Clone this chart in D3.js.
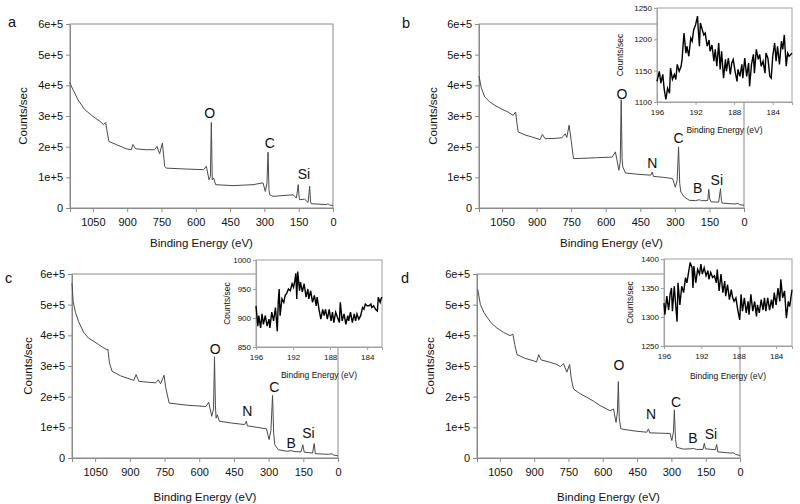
<!DOCTYPE html>
<html><head><meta charset="utf-8">
<script src="https://cdn.jsdelivr.net/npm/d3@7"></script>
<style>
body{margin:0;background:#fff}
svg{display:block}
text{font-family:"Liberation Sans",Arial,Helvetica,sans-serif;fill:#111}
</style>
</head><body>
<svg id="chart" width="800" height="504"></svg>
<script>
// ---------- data ----------
const xTicks = [1050, 900, 750, 600, 450, 300, 150, 0];
const yTicks = [0, 1e5, 2e5, 3e5, 4e5, 5e5, 6e5];
const insetXTicks = [196, 192, 188, 184];
const insetYTicksB = [1100, 1150, 1200, 1250];
const insetYTicksC = [850, 900, 950, 1000];
const insetYTicksD = [1250, 1300, 1350, 1400];
const panelLetters = ["a", "b", "c", "d"];

// survey spectra: [binding energy (eV), counts/sec]
const surveyA = [[1152,4.10e5],[1137,3.86e5],[1115,3.53e5],[1086,3.21e5],[1050,2.99e5],[1020,2.83e5],[1003,2.72e5],[994,2.79e5],[988,2.50e5],[980,2.17e5],[948,2.07e5],[904,1.93e5],[882,1.90e5],[875,2.07e5],[863,1.93e5],[816,1.90e5],[780,1.90e5],[770,2.01e5],[758,1.77e5],[746,2.12e5],[736,1.36e5],[729,1.30e5],[641,1.27e5],[566,1.25e5],[554,1.36e5],[542,0.92e5],[536,1.03e5],[532,2.79e5],[528,0.92e5],[522,0.98e5],[513,0.76e5],[437,0.73e5],[350,0.76e5],[306,0.82e5],[296,0.54e5],[289,0.80e5],[284,1.82e5],[280,0.60e5],[277,0.43e5],[262,0.38e5],[175,0.43e5],[160,0.33e5],[152,0.76e5],[148,0.35e5],[146,0.27e5],[124,0.29e5],[109,0.18e5],[102,0.71e5],[98,0.20e5],[95,0.14e5],[29,0.11e5],[22,0.14e5],[16,0.10e5],[0,0.08e5]];

const surveyB = [[1150,4.30e5],[1140,3.92e5],[1125,3.62e5],[1105,3.47e5],[1082,3.35e5],[1050,3.22e5],[1024,3.13e5],[1002,3.02e5],[991,3.13e5],[985,2.75e5],[980,2.48e5],[950,2.38e5],[922,2.32e5],[885,2.23e5],[875,2.40e5],[863,2.26e5],[820,2.27e5],[790,2.29e5],[776,2.42e5],[769,2.30e5],[759,2.70e5],[750,2.20e5],[740,1.61e5],[700,1.62e5],[640,1.64e5],[572,1.66e5],[558,1.83e5],[543,1.23e5],[537,1.50e5],[533,3.53e5],[529,1.60e5],[526,1.34e5],[514,1.14e5],[460,1.10e5],[405,1.07e5],[398,1.17e5],[393,1.03e5],[350,1.00e5],[310,0.96e5],[298,0.68e5],[290,0.90e5],[284,1.99e5],[279,0.80e5],[274,0.52e5],[259,0.36e5],[237,0.25e5],[210,0.24e5],[194,0.27e5],[185,0.24e5],[165,0.24e5],[157,0.25e5],[153,0.61e5],[149,0.30e5],[143,0.20e5],[110,0.19e5],[102,0.63e5],[98,0.25e5],[95,0.16e5],[40,0.13e5],[26,0.15e5],[20,0.11e5],[0,0.09e5]];

const surveyC = [[1150,5.70e5],[1145,5.10e5],[1135,4.75e5],[1122,4.46e5],[1100,4.10e5],[1079,3.91e5],[1055,3.80e5],[1035,3.70e5],[1015,3.60e5],[999,3.53e5],[995,3.55e5],[988,3.10e5],[977,2.83e5],[940,2.68e5],[890,2.55e5],[883,2.53e5],[873,2.72e5],[861,2.50e5],[820,2.47e5],[788,2.45e5],[777,2.55e5],[767,2.42e5],[752,2.70e5],[745,2.30e5],[730,1.79e5],[650,1.72e5],[571,1.68e5],[559,1.82e5],[546,1.36e5],[538,1.60e5],[534,3.30e5],[530,1.70e5],[527,1.30e5],[522,1.41e5],[513,1.20e5],[460,1.14e5],[404,1.09e5],[396,1.20e5],[392,1.05e5],[350,1.00e5],[309,0.95e5],[298,0.60e5],[290,0.90e5],[283,2.04e5],[278,0.80e5],[273,0.43e5],[258,0.27e5],[220,0.22e5],[200,0.24e5],[190,0.21e5],[160,0.20e5],[152,0.43e5],[146,0.19e5],[110,0.16e5],[103,0.47e5],[98,0.14e5],[40,0.12e5],[26,0.14e5],[20,0.10e5],[0,0.07e5]];

const surveyD = [[1147,5.50e5],[1135,5.00e5],[1120,4.75e5],[1107,4.60e5],[1085,4.38e5],[1063,4.24e5],[1035,4.10e5],[1005,3.99e5],[993,4.04e5],[985,3.70e5],[975,3.37e5],[940,3.25e5],[903,3.17e5],[890,3.13e5],[880,3.37e5],[870,3.20e5],[830,3.12e5],[801,3.05e5],[785,2.98e5],[772,3.08e5],[757,2.80e5],[745,3.05e5],[738,2.60e5],[728,2.25e5],[700,2.10e5],[670,1.98e5],[640,1.85e5],[612,1.71e5],[568,1.54e5],[553,1.60e5],[542,1.16e5],[536,1.50e5],[532,2.49e5],[528,1.30e5],[521,0.95e5],[460,0.88e5],[408,0.84e5],[400,0.95e5],[395,0.82e5],[350,0.81e5],[306,0.80e5],[298,0.57e5],[291,0.85e5],[287,1.57e5],[282,0.60e5],[277,0.35e5],[248,0.29e5],[215,0.30e5],[204,0.31e5],[190,0.28e5],[162,0.28e5],[156,0.48e5],[151,0.30e5],[108,0.27e5],[102,0.44e5],[97,0.20e5],[40,0.16e5],[29,0.17e5],[20,0.12e5],[0,0.08e5]];

// B 1s high-resolution insets: [binding energy (eV), counts/sec]
const insetB = [[196.0,1133],[195.76,1149],[195.6,1130],[195.4,1144],[195.25,1120],[195.08,1104],[194.9,1122],[194.7,1114],[194.6,1154],[194.4,1136],[194.2,1144],[194.05,1136],[193.9,1160],[193.7,1149],[193.5,1157],[193.4,1168],[193.2,1210],[193.0,1178],[192.9,1189],[192.7,1173],[192.5,1202],[192.35,1197],[192.2,1215],[192.0,1223],[191.8,1237],[191.73,1218],[191.6,1189],[191.5,1226],[191.3,1215],[191.15,1207],[191.0,1210],[190.8,1189],[190.6,1199],[190.5,1181],[190.3,1191],[190.1,1165],[189.96,1184],[189.8,1157],[189.6,1194],[189.45,1152],[189.3,1181],[189.1,1138],[188.9,1168],[188.8,1149],[188.6,1170],[188.4,1144],[188.25,1162],[188.1,1168],[187.9,1149],[187.7,1133],[187.6,1152],[187.4,1141],[187.2,1160],[187.1,1138],[186.9,1170],[186.7,1141],[186.5,1162],[186.4,1125],[186.2,1160],[186.0,1176],[185.9,1146],[185.7,1184],[185.5,1168],[185.35,1176],[185.2,1157],[185.0,1165],[184.8,1146],[184.7,1178],[184.5,1170],[184.3,1141],[184.15,1138],[184.0,1173],[183.8,1194],[183.65,1165],[183.5,1189],[183.3,1160],[183.1,1197],[182.96,1184],[182.8,1207],[182.6,1157],[182.45,1178],[182.3,1173],[182.0,1178]];

const insetC = [[196.0,921],[195.8,886],[195.7,904],[195.5,883],[195.35,907],[195.2,889],[195.0,904],[194.8,886],[194.6,898],[194.5,883],[194.3,910],[194.1,895],[193.9,918],[193.7,877],[193.6,927],[193.5,950],[193.4,904],[193.2,933],[193.0,927],[192.85,939],[192.7,942],[192.5,950],[192.3,947],[192.1,959],[191.95,953],[191.8,965],[191.7,977],[191.6,933],[191.5,980],[191.3,947],[191.2,962],[191.0,945],[190.8,959],[190.6,936],[190.4,950],[190.3,933],[190.1,947],[189.9,927],[189.7,939],[189.5,921],[189.4,936],[189.2,915],[189.0,898],[188.8,915],[188.65,904],[188.5,915],[188.3,898],[188.1,915],[187.9,895],[187.75,910],[187.6,892],[187.4,910],[187.2,901],[187.0,892],[186.9,927],[186.7,895],[186.5,907],[186.3,889],[186.1,904],[186.0,895],[185.8,910],[185.6,892],[185.4,907],[185.25,895],[185.1,907],[184.9,898],[184.7,904],[184.5,918],[184.35,915],[184.2,924],[184.0,921],[183.8,921],[183.6,924],[183.5,918],[183.3,921],[183.1,915],[182.9,912],[182.8,936],[182.6,927],[182.5,933],[182.4,936]];

const insetD = [[196.0,1324],[195.9,1304],[195.7,1336],[195.5,1312],[195.35,1339],[195.2,1350],[195.1,1310],[194.9,1353],[194.75,1321],[194.6,1292],[194.5,1359],[194.3,1321],[194.1,1353],[193.9,1342],[193.7,1368],[193.55,1359],[193.4,1374],[193.2,1394],[193.0,1385],[192.9,1350],[192.8,1388],[192.6,1359],[192.4,1382],[192.2,1374],[192.05,1391],[191.9,1374],[191.7,1385],[191.5,1371],[191.3,1380],[191.2,1365],[191.0,1377],[190.8,1368],[190.6,1371],[190.4,1359],[190.3,1382],[190.1,1345],[189.9,1374],[189.7,1342],[189.5,1362],[189.4,1336],[189.2,1356],[189.0,1330],[188.8,1347],[188.65,1333],[188.5,1327],[188.3,1333],[188.1,1312],[187.9,1295],[187.75,1339],[187.6,1310],[187.4,1333],[187.2,1307],[187.0,1327],[186.9,1304],[186.7,1339],[186.5,1310],[186.3,1327],[186.1,1301],[186.0,1321],[185.8,1307],[185.6,1330],[185.4,1312],[185.25,1333],[185.1,1310],[184.9,1333],[184.7,1312],[184.5,1330],[184.35,1315],[184.2,1342],[184.0,1321],[183.8,1350],[183.6,1327],[183.5,1365],[183.3,1333],[183.1,1345],[182.9,1298],[182.7,1327],[182.55,1318],[182.3,1347]];

// peak annotations (text, binding energy, counts at label centre)
const peaksA = [["O",539,3.10e5],["C",276,2.12e5],["Si",127,1.11e5]];
const peaksB = [["O",530,3.72e5],["C",284,2.28e5],["N",398,1.47e5],["B",201,0.65e5],["Si",118,0.91e5]];
const peaksC = [["O",531,3.55e5],["C",275,2.32e5],["N",392,1.53e5],["B",202,0.49e5],["Si",128,0.82e5]];
const peaksD = [["O",529,3.03e5],["C",280,1.83e5],["N",389,1.43e5],["B",206,0.65e5],["Si",127,0.78e5]];

// ---------- layout ----------
const svg = d3.select("#chart");
const FONT_TICK = 11, FONT_LAB = 11.5;

const panels = [
  {letter:panelLetters[0], data:surveyA, peaks:peaksA, L:70,  R:333, T:24,  B:208, lx:8,   ly:27,  ylabX:23,  xlabDy:35, inset:null},
  {letter:panelLetters[1], data:surveyB, peaks:peaksB, L:479, R:744, T:24,  B:208, lx:402, ly:28,  ylabX:433, xlabDy:35,
     inset:{data:insetB, yt:insetYTicksB, L:657, R:792, T:8,   B:102, xmin:182.0, ylabDx:37, xlabDy:28}},
  {letter:panelLetters[2], data:surveyC, peaks:peaksC, L:72,  R:338, T:274, B:458, lx:5,   ly:283, ylabX:28,  xlabDy:39,
     inset:{data:insetC, yt:insetYTicksC, L:256, R:382, T:260, B:347, xmin:182.4, ylabDx:29, xlabDy:28}},
  {letter:panelLetters[3], data:surveyD, peaks:peaksD, L:477, R:740, T:274, B:458, lx:401, ly:283, ylabX:430, xlabDy:39,
     inset:{data:insetD, yt:insetYTicksD, L:664, R:792, T:259, B:346, xmin:182.3, ylabDx:34, xlabDy:30}}
];

const fmtY = d => d === 0 ? "0" : (d / 1e5) + "e+5";

panels.forEach(p => {
  const g = svg.append("g");
  const x = d3.scaleLinear().domain([1150, 0]).range([p.L, p.R]);
  const y = d3.scaleLinear().domain([0, 6e5]).range([p.B, p.T]);

  // frame
  g.append("rect").attr("x", p.L).attr("y", p.T).attr("width", p.R - p.L).attr("height", p.B - p.T)
    .attr("fill", "none").attr("stroke", "#8a8a8a").attr("stroke-width", 1);

  const ya = g.append("g").attr("transform", `translate(${p.L},0)`)
    .call(d3.axisLeft(y).tickValues(yTicks).tickFormat(fmtY).tickSize(4).tickPadding(3));
  const xa = g.append("g").attr("transform", `translate(0,${p.B})`)
    .call(d3.axisBottom(x).tickValues(xTicks).tickFormat(d3.format("d")).tickSize(4).tickPadding(6));
  [ya, xa].forEach(a => {
    a.select(".domain").attr("stroke", "#8a8a8a");
    a.selectAll(".tick line").attr("stroke", "#8a8a8a");
    a.selectAll(".tick text").attr("font-size", FONT_TICK).attr("fill", "#111")
      .attr("font-family", '"Liberation Sans",Arial,sans-serif');
  });

  // spectrum
  g.append("path").datum(p.data)
    .attr("d", d3.line().x(d => x(d[0])).y(d => y(d[1])))
    .attr("fill", "none").attr("stroke", "#4a4a4a").attr("stroke-width", 1).attr("stroke-linejoin", "round");

  // peak labels
  p.peaks.forEach(pk => {
    g.append("text").attr("x", x(pk[1])).attr("y", y(pk[2])).attr("text-anchor", "middle")
      .attr("dominant-baseline", "central").attr("font-size", 14).text(pk[0]);
  });

  // axis labels
  g.append("text").attr("x", (p.L + p.R) / 2).attr("y", p.B + p.xlabDy).attr("text-anchor", "middle")
    .attr("dominant-baseline", "central").attr("font-size", FONT_LAB).text("Binding Energy (eV)");
  g.append("text").attr("transform", `translate(${p.ylabX},${(p.T + p.B) / 2}) rotate(-90)`)
    .attr("text-anchor", "middle").attr("dominant-baseline", "central").attr("font-size", FONT_LAB).text("Counts/sec");

  // panel letter
  g.append("text").attr("x", p.lx).attr("y", p.ly).attr("font-size", 14.5).text(p.letter);

  // inset
  if (p.inset) {
    const q = p.inset;
    const gi = svg.append("g");
    const xi = d3.scaleLinear().domain([196, q.xmin]).range([q.L, q.R]);
    const yi = d3.scaleLinear().domain([q.yt[0], q.yt[q.yt.length - 1]]).range([q.B, q.T]);
    gi.append("rect").attr("x", q.L).attr("y", q.T).attr("width", q.R - q.L).attr("height", q.B - q.T)
      .attr("fill", "#fff").attr("stroke", "#a0a0a0").attr("stroke-width", 1);
    const yia = gi.append("g").attr("transform", `translate(${q.L},0)`)
      .call(d3.axisLeft(yi).tickValues(q.yt).tickFormat(d3.format("d")).tickSize(3).tickPadding(2));
    const xia = gi.append("g").attr("transform", `translate(0,${q.B})`)
      .call(d3.axisBottom(xi).tickValues(insetXTicks).tickFormat(d3.format("d")).tickSize(3).tickPadding(4));
    [yia, xia].forEach(a => {
      a.select(".domain").attr("stroke", "#a0a0a0");
      a.selectAll(".tick line").attr("stroke", "#a0a0a0");
      a.selectAll(".tick text").attr("font-size", 8).attr("fill", "#111")
        .attr("font-family", '"Liberation Sans",Arial,sans-serif');
    });
    gi.append("path").datum(q.data)
      .attr("d", d3.line().x(d => xi(d[0])).y(d => yi(d[1])))
      .attr("fill", "none").attr("stroke", "#000").attr("stroke-width", 1.4).attr("stroke-linejoin", "miter");
    gi.append("text").attr("x", (q.L + q.R) / 2).attr("y", q.B + q.xlabDy).attr("text-anchor", "middle")
      .attr("dominant-baseline", "central").attr("font-size", 8.5).text("Binding Energy (eV)");
    gi.append("text").attr("transform", `translate(${q.L - q.ylabDx},${(q.T + q.B) / 2}) rotate(-90)`)
      .attr("text-anchor", "middle").attr("dominant-baseline", "central").attr("font-size", 8.5).text("Counts/sec");
  }
});
</script>
</body></html>
